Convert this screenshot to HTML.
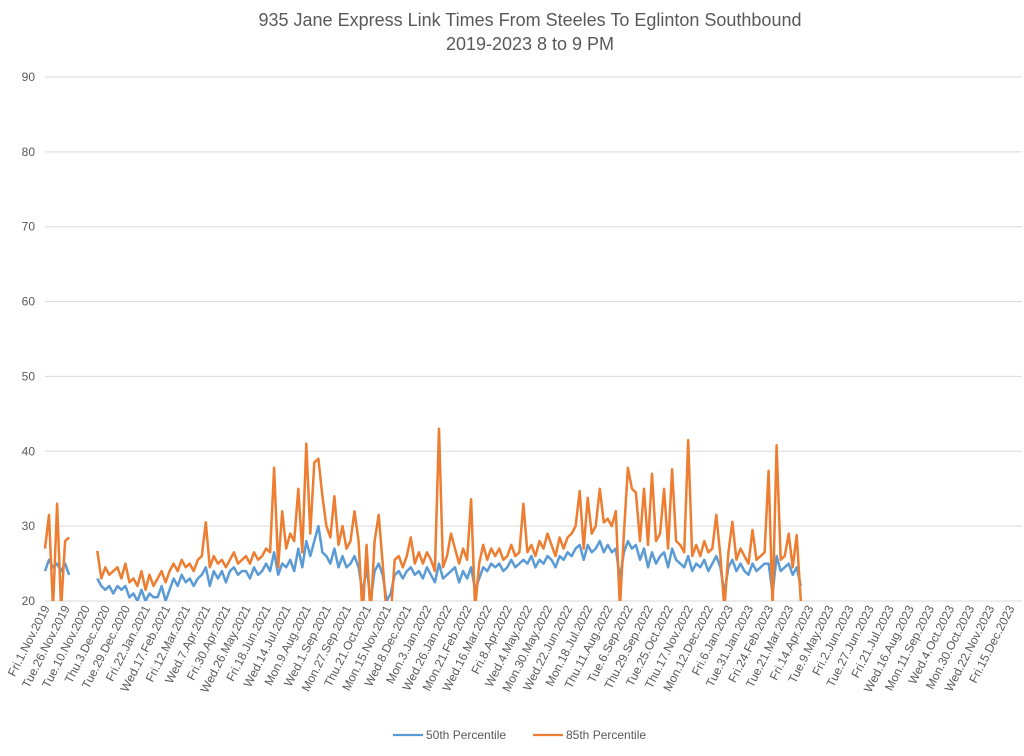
<!DOCTYPE html>
<html><head><meta charset="utf-8"><style>
html,body{margin:0;padding:0;background:#fff;}
svg text{font-family:"Liberation Sans",sans-serif;fill:#595959;}
</style></head><body>
<svg id="chart" width="1024" height="751" xmlns="http://www.w3.org/2000/svg">
<rect width="1024" height="751" fill="#fff"/>
<text x="530" y="26" font-size="18" text-anchor="middle">935 Jane Express Link Times From Steeles To Eglinton Southbound</text>
<text x="530" y="50" font-size="18" text-anchor="middle">2019-2023 8 to 9 PM</text>
<g id="grid"></g>
<g id="yticks"></g>
<g id="xticks"></g>
<defs><clipPath id="plotclip"><rect x="44" y="70" width="980" height="531"/></clipPath></defs>
<g id="series" clip-path="url(#plotclip)"></g>
<g>
<line x1="393" y1="735" x2="423" y2="735" stroke="#5b9bd5" stroke-width="2.2"/>
<text x="426" y="739" font-size="12">50th Percentile</text>
<line x1="533" y1="735" x2="563" y2="735" stroke="#ed7d31" stroke-width="2.2"/>
<text x="566" y="739" font-size="12">85th Percentile</text>
</g>
</svg>
<script>
const yTicks=[20,30,40,50,60,70,80,90];
const xLabels=["Fri.1.Nov.2019","Tue.26.Nov.2019","Tue.10.Nov.2020","Thu.3.Dec.2020","Tue.29.Dec.2020","Fri.22.Jan.2021","Wed.17.Feb.2021","Fri.12.Mar.2021","Wed.7.Apr.2021","Fri.30.Apr.2021","Wed.26.May.2021","Fri.18.Jun.2021","Wed.14.Jul.2021","Mon.9.Aug.2021","Wed.1.Sep.2021","Mon.27.Sep.2021","Thu.21.Oct.2021","Mon.15.Nov.2021","Wed.8.Dec.2021","Mon.3.Jan.2022","Wed.26.Jan.2022","Mon.21.Feb.2022","Wed.16.Mar.2022","Fri.8.Apr.2022","Wed.4.May.2022","Mon.30.May.2022","Wed.22.Jun.2022","Mon.18.Jul.2022","Thu.11.Aug.2022","Tue.6.Sep.2022","Thu.29.Sep.2022","Tue.25.Oct.2022","Thu.17.Nov.2022","Mon.12.Dec.2022","Fri.6.Jan.2023","Tue.31.Jan.2023","Fri.24.Feb.2023","Tue.21.Mar.2023","Fri.14.Apr.2023","Tue.9.May.2023","Fri.2.Jun.2023","Tue.27.Jun.2023","Fri.21.Jul.2023","Wed.16.Aug.2023","Mon.11.Sep.2023","Wed.4.Oct.2023","Mon.30.Oct.2023","Wed.22.Nov.2023","Fri.15.Dec.2023"];
const p85=[27,31.5,19,33,19,28,28.5,null,null,null,
null,null,null,26.7,23,24.5,23.5,24,24.5,23,
25,22.5,23,22,24,21.5,23.5,22,23,24,
22.5,24,25,24,25.5,24.5,25,24,25.5,26,
30.5,24.5,26,25,25.5,24.5,25.5,26.5,25,25.5,
26,25,26.5,25.5,26,27,26.5,37.8,24.5,32,
27,29,28,35,26.5,41,29,38.5,39,34,
30,28.5,34,27.5,30,27,28,32,28,18,
27.5,18,28,31.5,25,18,18,25.5,26,24.5,
26,28.5,25,26.5,25,26.5,25.5,24,43,24.5,
26,29,27,25,27,25.5,33.6,19,25,27.5,
25.5,27,26,27,25.5,26,27.5,26,26.5,33,
26.5,27.5,26,28,27,29,27.5,26,28.5,27,
28.5,29,30,34.7,27,33.8,29,30,35,30.5,
31,30,32,19,29,37.8,35,34.5,28,35,
27.5,37,28,29,35,27,37.6,28,27.5,26.5,
41.5,26,27.5,26,28,26.5,27,31.5,26,19,
26.5,30.6,25.5,27,26,25,29.5,25.5,26,26.5,
37.4,19,40.8,25.5,26,29,24.5,28.8,20];
const p50=[24,25.5,24.5,25,24,25,23.5,null,null,null,
null,null,null,23,22,21.5,22,21,22,21.5,
22,20.5,21,20,21.5,20,21,20.5,20.5,22,
20,21.5,23,22,23.5,22.5,23,22,23,23.5,
24.5,22,24,23,24,22.5,24,24.5,23.5,24,
24,23,24.5,23.5,24,25,24,26.5,23.5,25,
24.5,25.5,24,27,24.5,28,26,28,30,26.5,
26,25,27,24.5,26,24.5,25,26,24.5,21,
24.5,20,24,25,23.5,20,21,23.5,24,23,
24,24.5,23.5,24,23,24.5,23.5,22.5,25,23,
23.5,24,24.5,22.5,24,23,24.5,21.5,23,24.5,
24,25,24.5,25,24,24.5,25.5,24.5,25,25.5,
25,26,24.5,25.5,25,26,25.5,24.5,26,25.5,
26.5,26,27,27.5,25.5,27.5,26.5,27,28,26.5,
27.5,26.5,27,23,26.5,28,27,27.5,25.5,27,
24.5,26.5,25,26,26.5,24.5,27,25.5,25,24.5,
26,24,25,24.5,25.5,24,25,26,24.5,21,
24.5,25.5,24,25,24,23.5,25,24,24.5,25,
25,21,26,24,24.5,25,23.5,24.5,22];

const NS='http://www.w3.org/2000/svg';
const yMin=20,yMax=90,yTop=77,yBot=601;
function yS(v){return yBot-(v-yMin)/(yMax-yMin)*(yBot-yTop);}
function xLab(i){return 50+i*20.1;}
function xS(i){return 45+i*4.02;}
const grid=document.getElementById('grid'),yt=document.getElementById('yticks'),xt=document.getElementById('xticks'),ser=document.getElementById('series');
yTicks.forEach(v=>{
  const l=document.createElementNS(NS,'line');
  l.setAttribute('x1',45);l.setAttribute('x2',1022);
  l.setAttribute('y1',yS(v));l.setAttribute('y2',yS(v));
  l.setAttribute('stroke','#d9d9d9');l.setAttribute('stroke-width','1');
  
  
  grid.appendChild(l);
  const t=document.createElementNS(NS,'text');
  t.setAttribute('x',35);t.setAttribute('y',yS(v)+4);
  t.setAttribute('font-size','12');t.setAttribute('text-anchor','end');
  t.textContent=v;
  
  
  yt.appendChild(t);
});
xLabels.forEach((s,i)=>{
  const t=document.createElementNS(NS,'text');
  const x=xLab(i),y=608;
  t.setAttribute('x',x);t.setAttribute('y',y);
  t.setAttribute('font-size','12');t.setAttribute('text-anchor','end');
  t.setAttribute('transform','rotate(-63 '+x+' '+y+')');
  t.textContent=s;
  
  
  xt.appendChild(t);
});
function draw(arr,color,name){
  let d='',pen=false;
  arr.forEach((v,i)=>{
    if(v===null){pen=false;return;}
    d+=(pen?'L':'M')+xS(i).toFixed(1)+' '+yS(v).toFixed(1)+' ';pen=true;
  });
  const p=document.createElementNS(NS,'path');
  p.setAttribute('d',d);p.setAttribute('fill','none');
  p.setAttribute('stroke',color);p.setAttribute('stroke-width','2.5');
  p.setAttribute('stroke-linejoin','round');
  
  
  ser.appendChild(p);
}
draw(p50,'#5b9bd5','series-50th-percentile');
draw(p85,'#ed7d31','series-85th-percentile');
</script>
</body></html>
